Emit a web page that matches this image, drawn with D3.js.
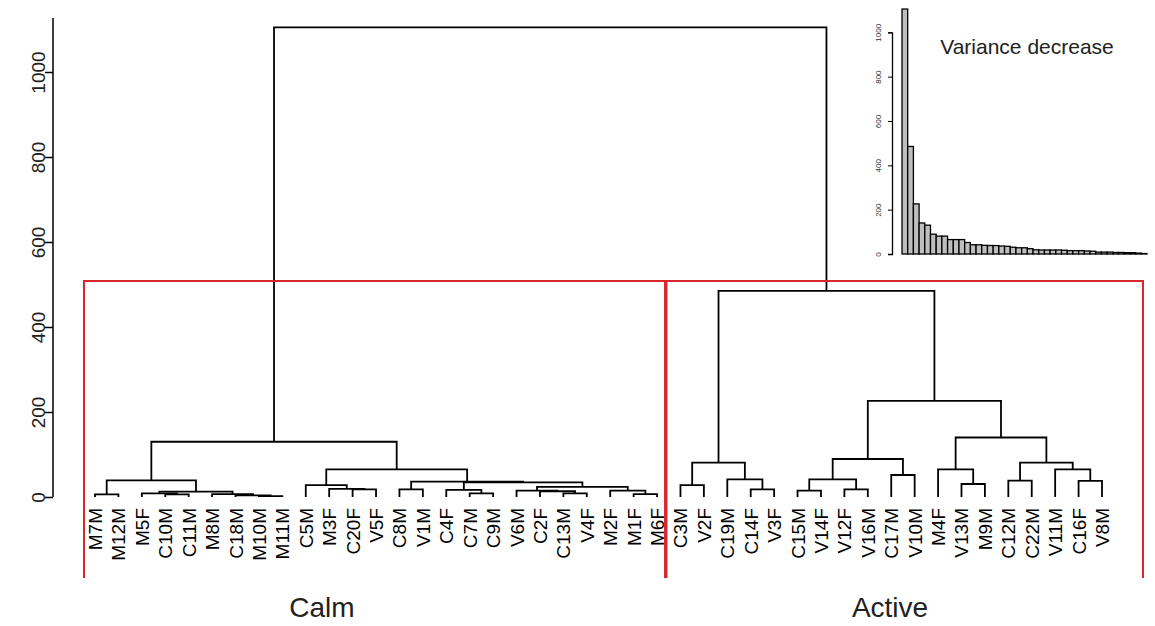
<!DOCTYPE html>
<html>
<head>
<meta charset="utf-8">
<script src="https://cdn.jsdelivr.net/npm/d3@7"></script>
<style>
  body { margin: 0; background: #fff; }
  svg { display: block; font-family: "Liberation Sans", Arial, sans-serif; }
</style>
</head>
<body>
<svg id="chart" width="1155" height="626"></svg>
<script>
// leaves in plotting order
var leafLabels = ["M7M", "M12M", "M5F", "C10M", "C11M", "M8M", "C18M", "M10M", "M11M", "C5M",
    "M3F", "C20F", "V5F", "C8M", "V1M", "C4F", "C7M", "C9M", "V6M", "C2F", "C13M", "V4F",
    "M2F", "M1F", "M6F",
    "C3M", "V2F", "C19M", "C14F", "V3F", "C15M", "V14F", "V12F", "V16M", "C17M", "V10M",
    "M4F", "V13M", "M9M", "C12M", "C22M", "V11M", "C16F", "V8M"];

// merge table, R style: negative = leaf (1-based), positive = earlier merge row (1-based)
var mergeLeft = [-1, -4, -3, -8, -7, -6, 3, 1, -12, -11, -10, -14, -17, -16, -21, -20, -19, -24, -23, 17,
    14, 12, 11, 8, -26, -29, -28, 25, -31, -33, 29, -35, 31, -38, -37, -40, -43, -42, 36, 35, 33, 28, 24];
var mergeRight = [-2, -5, 2, -9, 4, 5, 6, 7, -13, 9, 10, -15, -18, 13, -22, 15, 16, -25, 18, 19,
    20, 21, 22, 23, -27, -30, 26, 27, -32, -34, 30, -36, 32, -39, 34, -41, -44, 37, 38, 39, 40, 41, 42];
var mergeHeight = [6, 6, 8.5, 2, 4, 7, 12.5, 39, 18, 19, 28, 18, 8.5, 17, 8.5, 13.5, 15, 7, 15, 24,
    34.6, 36, 65, 130, 28, 18, 41.6, 80.7, 15, 18, 41.6, 51.8, 89.4, 30.6, 65, 38.4, 38, 65, 80.7, 140,
    226, 485, 1105];

var yTicks = [0, 200, 400, 600, 800, 1000];
var insetTicks = [0, 200, 400, 600, 800, 1000];

var clusterNames = ["Calm", "Active"];
var clusterSizes = [25, 19];
var cutHeight = 508;

var svg = d3.select("#chart");

var x = d3.scalePoint().domain(leafLabels).range([95, 1102]);
var y = d3.scaleLinear().domain([0, 1000]).range([497, 72]);

// node positions
var nodes = [];
function pos(ref) {
    if (ref < 0) return { x: x(leafLabels[-ref - 1]), h: 0 };
    return nodes[ref - 1];
}
mergeHeight.forEach(function (h, i) {
    var a = pos(mergeLeft[i]), b = pos(mergeRight[i]);
    nodes.push({ x: (a.x + b.x) / 2, h: h, a: a, b: b });
});

var g = svg.append("g");

// dendrogram branches
g.selectAll(".branch")
    .data(nodes)
    .enter()
    .append("path")
    .attr("class", "branch")
    .attr("fill", "none")
    .attr("stroke", "#000")
    .attr("stroke-width", 1.8)
    .attr("d", function (d) {
        return "M" + d.a.x + "," + y(d.a.h) + "V" + y(d.h) + "H" + d.b.x + "V" + y(d.b.h);
    });

// leaf labels
g.selectAll(".leaf")
    .data(leafLabels)
    .enter()
    .append("text")
    .attr("class", "leaf")
    .attr("transform", function (d) {
        return "translate(" + (x(d) + 7) + ",508) rotate(-90)";
    })
    .attr("text-anchor", "end")
    .attr("font-size", 19)
    .attr("fill", "#000")
    .text(function (d) { return d; });

// main y axis
var yAxis = d3.axisLeft(y).tickValues(yTicks).tickSize(8).tickFormat(d3.format("d"));
var gy = svg.append("g")
    .attr("transform", "translate(53,0)")
    .call(yAxis);
gy.select(".domain").remove();
gy.append("line")
    .attr("y1", y(0)).attr("y2", 18)
    .attr("stroke", "#000").attr("stroke-width", 1.5);
gy.selectAll(".tick line").attr("stroke-width", 1.5);
gy.selectAll(".tick text")
    .attr("x", null).attr("dy", null)
    .attr("transform", "translate(-8,0) rotate(-90)")
    .attr("text-anchor", "middle")
    .attr("font-size", 19)
    .attr("font-family", "Liberation Sans, Arial, sans-serif")
    .attr("fill", "#222");

// cluster boxes (cut of the tree)
var start = 0;
var boxPad = [[11, 8], [14, 41]];
clusterSizes.forEach(function (n, i) {
    var x0 = x(leafLabels[start]) - boxPad[i][0];
    var x1 = x(leafLabels[start + n - 1]) + boxPad[i][1];
    svg.append("path")
        .attr("fill", "none")
        .attr("stroke", "#d8262c")
        .attr("stroke-width", 2)
        .attr("d", "M" + x0 + ",578V" + y(cutHeight) + "H" + x1 + "V578");
    start += n;
});

// cluster names
var nameX = [322, 890];
svg.selectAll(".cname")
    .data(clusterNames)
    .enter()
    .append("text")
    .attr("x", function (d, i) { return nameX[i]; })
    .attr("y", 617)
    .attr("text-anchor", "middle")
    .attr("font-size", 28)
    .attr("fill", "#222")
    .text(function (d) { return d; });

// inset: variance decrease (merge heights, largest first)
var decrease = mergeHeight.slice().sort(d3.descending);
var ix = d3.scaleBand().domain(d3.range(decrease.length)).range([902, 1147]).paddingInner(0);
var iy = d3.scaleLinear().domain([0, 1000]).range([254, 32.3]);

var inset = svg.append("g");
inset.selectAll("rect")
    .data(decrease)
    .enter()
    .append("rect")
    .attr("x", function (d, i) { return ix(i); })
    .attr("y", function (d) { return iy(d); })
    .attr("width", ix.bandwidth())
    .attr("height", function (d) { return iy(0) - iy(d); })
    .attr("fill", "#bebebe")
    .attr("stroke", "#000")
    .attr("stroke-width", 1.3);

var iAxis = d3.axisLeft(iy).tickValues(insetTicks).tickSize(4).tickFormat(d3.format("d"));
var giy = inset.append("g")
    .attr("transform", "translate(892,0)")
    .call(iAxis);
giy.select(".domain").attr("stroke-width", 1.3);
giy.selectAll(".tick text")
    .attr("x", null).attr("dy", null)
    .attr("transform", "translate(-11,0) rotate(-90)")
    .attr("text-anchor", "middle")
    .attr("font-size", 8)
    .attr("fill", "#333");

inset.append("text")
    .attr("x", 1027)
    .attr("y", 54)
    .attr("text-anchor", "middle")
    .attr("font-size", 21)
    .attr("fill", "#222")
    .text("Variance decrease");
</script>
</body>
</html>
